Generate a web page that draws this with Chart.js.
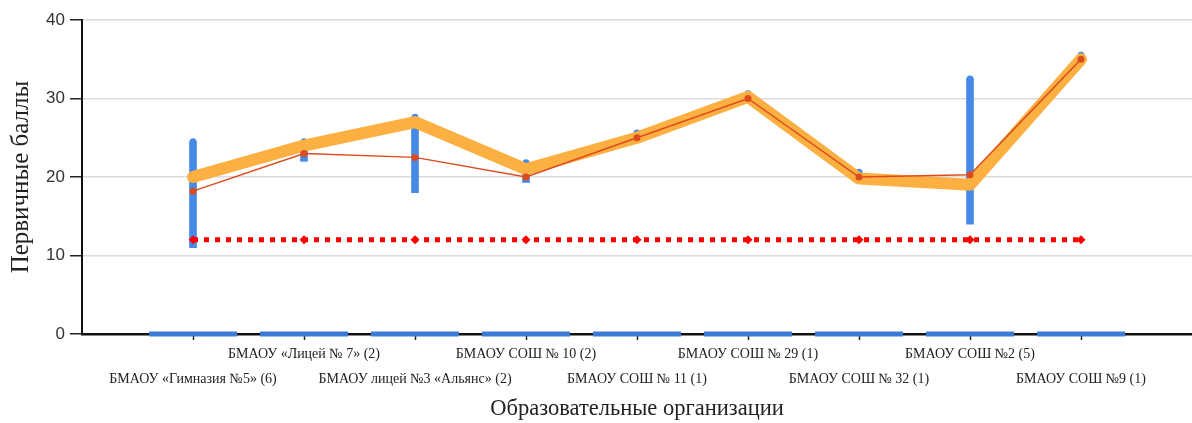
<!DOCTYPE html>
<html>
<head>
<meta charset="utf-8">
<script src="https://cdn.jsdelivr.net/npm/chart.js@4"></script>
<style>
  html, body { margin: 0; padding: 0; background: #fff; }
  #wrap { width: 1192px; height: 423px; }
</style>
</head>
<body>
<div id="wrap"><canvas id="chart"></canvas></div>
<script>
// schools (number of participants in brackets)
const categories = [
  'БМАОУ «Гимназия №5» (6)',
  'БМАОУ «Лицей № 7» (2)',
  'БМАОУ лицей №3 «Альянс» (2)',
  'БМАОУ СОШ № 10 (2)',
  'БМАОУ СОШ № 11 (1)',
  'БМАОУ СОШ № 29 (1)',
  'БМАОУ СОШ № 32 (1)',
  'БМАОУ СОШ №2 (5)',
  'БМАОУ СОШ №9 (1)'
];

// min / max primary scores per school (blue range)
const minScores = [11, 22, 18, 19.3, 25.6, 30.6, 20.6, 14, 35.5];
const maxScores = [24.5, 24.5, 27.6, 21.8, 25.6, 30.6, 20.6, 32.5, 35.5];
// average score (thick orange)
const avgScores = [20, 24, 27, 21, 25, 30.2, 19.8, 19, 35];
// median score (thin red)
const medianScores = [18.2, 23, 22.5, 20, 25, 30, 20, 20.3, 35];
// minimum threshold (dotted red)
const thresholdScores = [12, 12, 12, 12, 12, 12, 12, 12, 12];
// baseline markers
const baseScores = [0, 0, 0, 0, 0, 0, 0, 0, 0];

const yTicks = [0, 10, 20, 30, 40];

const BLUE = '#4689e6';
const ORANGE = '#fbb041';
const RED_LINE = '#dd4b1c';
const RED_DOT = '#ff0000';

function pts(arr) {
  return arr.map((v, i) => ({ x: i + 1, y: v }));
}

const ctx = document.getElementById('chart').getContext('2d');

new Chart(ctx, {
  type: 'bar',
  data: {
    datasets: [
      {
        type: 'line',
        data: pts(thresholdScores),
        borderColor: RED_DOT,
        backgroundColor: RED_DOT,
        borderWidth: 5,
        borderDash: [5, 6],
        pointStyle: 'rectRot',
        pointRadius: 4.5,
        pointBorderWidth: 0,
        fill: false,
        order: 1
      },
      {
        type: 'line',
        data: pts(medianScores),
        borderColor: RED_LINE,
        backgroundColor: RED_LINE,
        borderWidth: 1.5,
        pointRadius: 3.5,
        pointBorderWidth: 0,
        fill: false,
        order: 2
      },
      {
        type: 'line',
        data: pts(avgScores),
        borderColor: ORANGE,
        backgroundColor: ORANGE,
        borderWidth: 12,
        borderJoinStyle: 'round',
        borderCapStyle: 'round',
        pointRadius: 0,
        fill: false,
        order: 3
      },
      {
        type: 'line',
        data: pts(maxScores),
        showLine: false,
        backgroundColor: BLUE,
        borderColor: BLUE,
        pointRadius: 3.5,
        pointBorderWidth: 0,
        order: 4
      },
      {
        type: 'bar',
        data: minScores.map((v, i) => ({ x: i + 1, y: [v, maxScores[i]] })),
        backgroundColor: BLUE,
        barThickness: 7,
        grouped: false,
        order: 5
      },
      {
        type: 'line',
        data: pts(baseScores),
        showLine: false,
        pointStyle: 'line',
        pointRadius: 44,
        borderColor: '#3b7ad6',
        borderWidth: 5,
        clip: false,
        order: 6
      }
    ]
  },
  options: {
    responsive: true,
    maintainAspectRatio: false,
    animation: false,
    layout: { autoPadding: false, padding: { top: 20, right: 0, left: 0, bottom: 0 } },
    plugins: {
      legend: { display: false },
      tooltip: { enabled: false }
    },
    scales: {
      x: {
        type: 'linear',
        min: 0,
        max: 10,
        offset: false,
        afterBuildTicks: (scale) => {
          scale.ticks = categories.map((c, i) => ({ value: i + 1 }));
        },
        afterFit: (scale) => { scale.height = 89; },
        ticks: {
          autoSkip: false,
          maxRotation: 0,
          minRotation: 0,
          padding: 2,
          color: '#222',
          font: { family: 'Liberation Serif', size: 14, lineHeight: 1.8 },
          callback: (value) => {
            const i = Math.round(value) - 1;
            const name = categories[i] || '';
            return i % 2 === 0 ? ['', name] : [name, ''];
          }
        },
        grid: {
          display: true,
          offset: false,
          drawOnChartArea: false,
          drawTicks: true,
          tickLength: 6,
          tickColor: '#222',
          tickWidth: 1.5
        },
        border: { display: true, color: '#111', width: 2.5 },
        title: {
          display: true,
          text: 'Образовательные организации',
          color: '#222',
          font: { family: 'Liberation Serif', size: 22.5 },
          padding: { top: 0, bottom: 0 }
        }
      },
      y: {
        min: 0,
        max: 40,
        afterBuildTicks: (scale) => {
          scale.ticks = yTicks.map(v => ({ value: v }));
        },
        afterFit: (scale) => { scale.width = 82; },
        ticks: {
          padding: 5,
          color: '#333',
          font: { family: 'Liberation Sans', size: 17 }
        },
        grid: {
          color: '#dcdcdc',
          lineWidth: 1.5,
          drawTicks: true,
          tickLength: 12,
          tickColor: '#222',
          tickWidth: 1.5
        },
        border: { display: true, color: '#111', width: 2 },
        title: {
          display: true,
          text: 'Первичные баллы',
          color: '#222',
          font: { family: 'Liberation Serif', size: 25 },
          padding: { top: 6, bottom: 0 }
        }
      }
    }
  }
});
</script>
</body>
</html>
